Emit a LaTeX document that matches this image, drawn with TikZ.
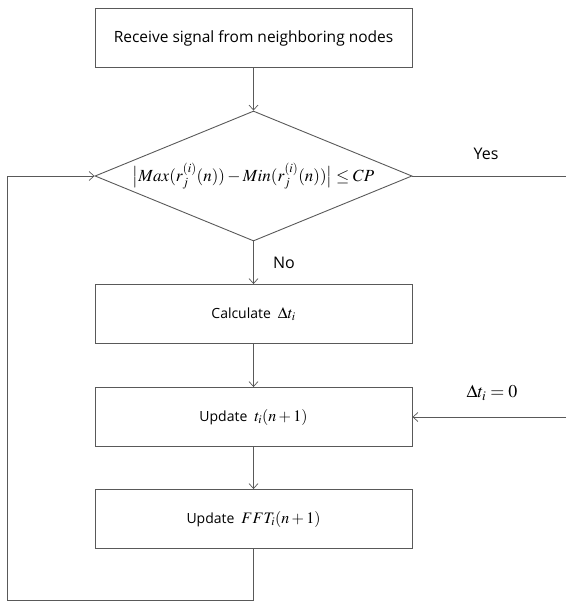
\documentclass[tikz,border=0pt]{standalone}
\usepackage{mathptmx}
\usepackage{fontspec}
\setmainfont{Open Sans}
\usetikzlibrary{arrows.meta,shapes.geometric}
\newcommand{\mfs}[1]{{\fontsize{16}{18}\selectfont$#1$}}
\begin{document}
\begin{tikzpicture}[x=1pt,y=-1pt,
  line width=0.9pt,
  ln/.style={draw=black!65},
  arr/.style={ln,-{Straight Barb[length=5pt,width=9pt,line width=0.7pt]}},
  procbox/.style={draw=black!65,rectangle,minimum width=317pt,minimum height=59pt,inner sep=0pt,font=\fontsize{14}{16}\selectfont},
  decbox/.style={draw=black!65,diamond,aspect=2.44,minimum width=317pt,minimum height=130pt,inner sep=0pt,font=\fontsize{17}{19}\selectfont},
  lbl/.style={font=\fontsize{16}{18}\selectfont,inner sep=0pt}]
\useasboundingbox (0,0) rectangle (566,602);
\node[procbox,font=\fontsize{15.5}{18}\selectfont] (recv) at (253.5,38) {Receive signal from neighboring nodes};
\node[decbox] (dec) at (253.5,176) {$\bigl|Max(r_j^{(i)}(n))-Min(r_j^{(i)}(n))\bigr|\leq CP$};
\node[procbox] (calc) at (253.5,314) {Calculate\enspace \mfs{\Delta t_i}};
\node[procbox] (upd) at (253.5,417) {Update\enspace \mfs{t_i(n+1)}};
\node[procbox] (fft) at (253.5,519) {Update\enspace \mfs{FFT_i(n+1)}};
\coordinate (yesend) at (566,176);
\coordinate (dtstart) at (566,417);
\coordinate (loopc) at (7,600);
\node[lbl] (yes) at (486,154) {Yes};
\node[lbl] (no) at (284,263) {No};
\node[lbl,font=\fontsize{18}{20}\selectfont] (dtl) at (492,393) {$\Delta t_i = 0$};
\draw[arr] (recv.south) -- (dec.north);
\draw[arr] (dec.south) -- (calc.north);
\draw[arr] (calc.south) -- (upd.north);
\draw[arr] (upd.south) -- (fft.north);
\draw[ln] (dec.east) -- (yesend);
\draw[arr] (dtstart) -- (upd.east);
\draw[arr] (fft.south) |- (loopc) |- (dec.west);
\end{tikzpicture}
\end{document}
